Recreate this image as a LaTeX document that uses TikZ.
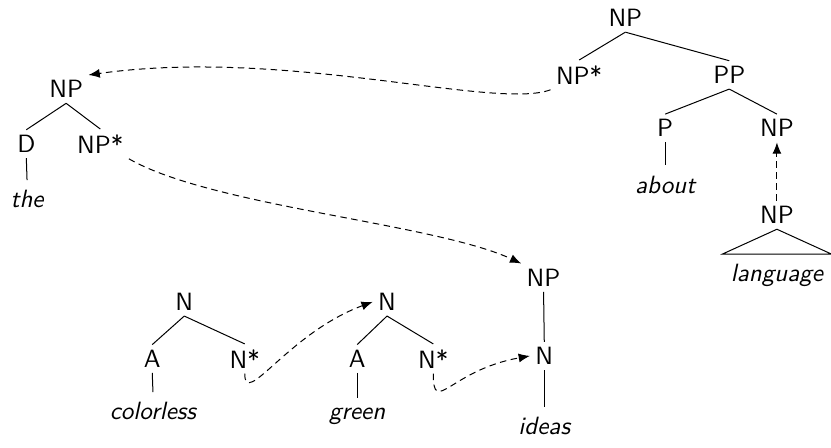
\documentclass[tikz,border=0pt]{standalone}
\usepackage{tikz}
\usetikzlibrary{arrows.meta}
\renewcommand{\familydefault}{\sfdefault}

\begin{document}
\begin{tikzpicture}[>={Latex[length=4.5pt,width=3.6pt]},
  cat/.style={inner sep=2pt},
  word/.style={font=\itshape, anchor=base, inner xsep=2pt, inner ysep=4pt},
  adjoin/.style={->, dash pattern=on 2.6pt off 1.8pt}]
  \useasboundingbox (0,0) rectangle (11.68,6.283);

  % Tree for "the"
  \node[cat] (lnp) at (0.93,5.03) {NP};
  \node[cat] (ld) at (0.37,4.26) {D};
  \node[cat] (lnps) at (1.41,4.26) {NP*};
  \node[word] (the) at (0.38,3.36) {the};
  \draw (lnp.south) -- (ld.north);
  \draw (lnp.south) -- (lnps.north);
  \draw (ld.south) -- (the.north);

  % Tree for "about language"
  \node[cat] (rnp) at (8.79,6.03) {NP};
  \node[cat] (rnps) at (8.14,5.23) {NP*};
  \node[cat] (rpp) at (10.25,5.23) {PP};
  \node[cat] (rp) at (9.35,4.48) {P};
  \node[cat] (rnp2) at (10.92,4.48) {NP};
  \node[word] (about) at (9.35,3.57) {about};
  \node[cat] (rnp3) at (10.92,3.26) {NP};
  \node[word, minimum width=1.52cm] (lang) at (10.92,2.32) {language};
  \draw (rnp.south) -- (rnps.north);
  \draw (rnp.south) -- (rpp.north);
  \draw (rpp.south) -- (rp.north);
  \draw (rpp.south) -- (rnp2.north);
  \draw (rp.south) -- (about.north);
  \draw (rnp3.south) -- (lang.north west) -- (lang.north east) -- cycle;

  % Tree for "ideas"
  \node[cat] (mnp) at (7.64,2.38) {NP};
  \node[cat] (mn) at (7.65,1.28) {N};
  \node[word] (ideas) at (7.65,0.17) {ideas};
  \draw (mnp.south) -- (mn.north);
  \draw (mn.south) -- (ideas.north);

  % Trees for "colorless" and "green"
  \node[cat] (an) at (2.59,2.04) {N};
  \node[cat] (aa) at (2.14,1.24) {A};
  \node[cat] (ans) at (3.44,1.24) {N*};
  \node[word] (colorless) at (2.15,0.38) {colorless};
  \draw (an.south) -- (aa.north);
  \draw (an.south) -- (ans.north);
  \draw (aa.south) -- (colorless.north);

  \node[cat] (bn) at (5.44,2.04) {N};
  \node[cat] (ba) at (5.02,1.24) {A};
  \node[cat] (bns) at (6.09,1.24) {N*};
  \node[word] (green) at (5.02,0.38) {green};
  \draw (bn.south) -- (ba.north);
  \draw (bn.south) -- (bns.north);
  \draw (ba.south) -- (green.north);

  % Adjunction and substitution links
  \draw[adjoin] (rnps.south west) .. controls +(-0.79,-0.29) and +(2.78,0.39) .. (lnp.north east);
  \draw[adjoin] (lnps.south east) to[out=-30, in=155, looseness=0.6] (mnp.north west);
  \draw[adjoin] (ans.south) .. controls +(0,-0.49) and +(-1.19,-0.44) .. (bn.west);
  \draw[adjoin] (bns.south) .. controls +(0,-0.6) and +(-1.12,-0.2) .. (mn.west);
  \draw[adjoin] (rnp3.north) -- (rnp2.south);
\end{tikzpicture}
\end{document}
